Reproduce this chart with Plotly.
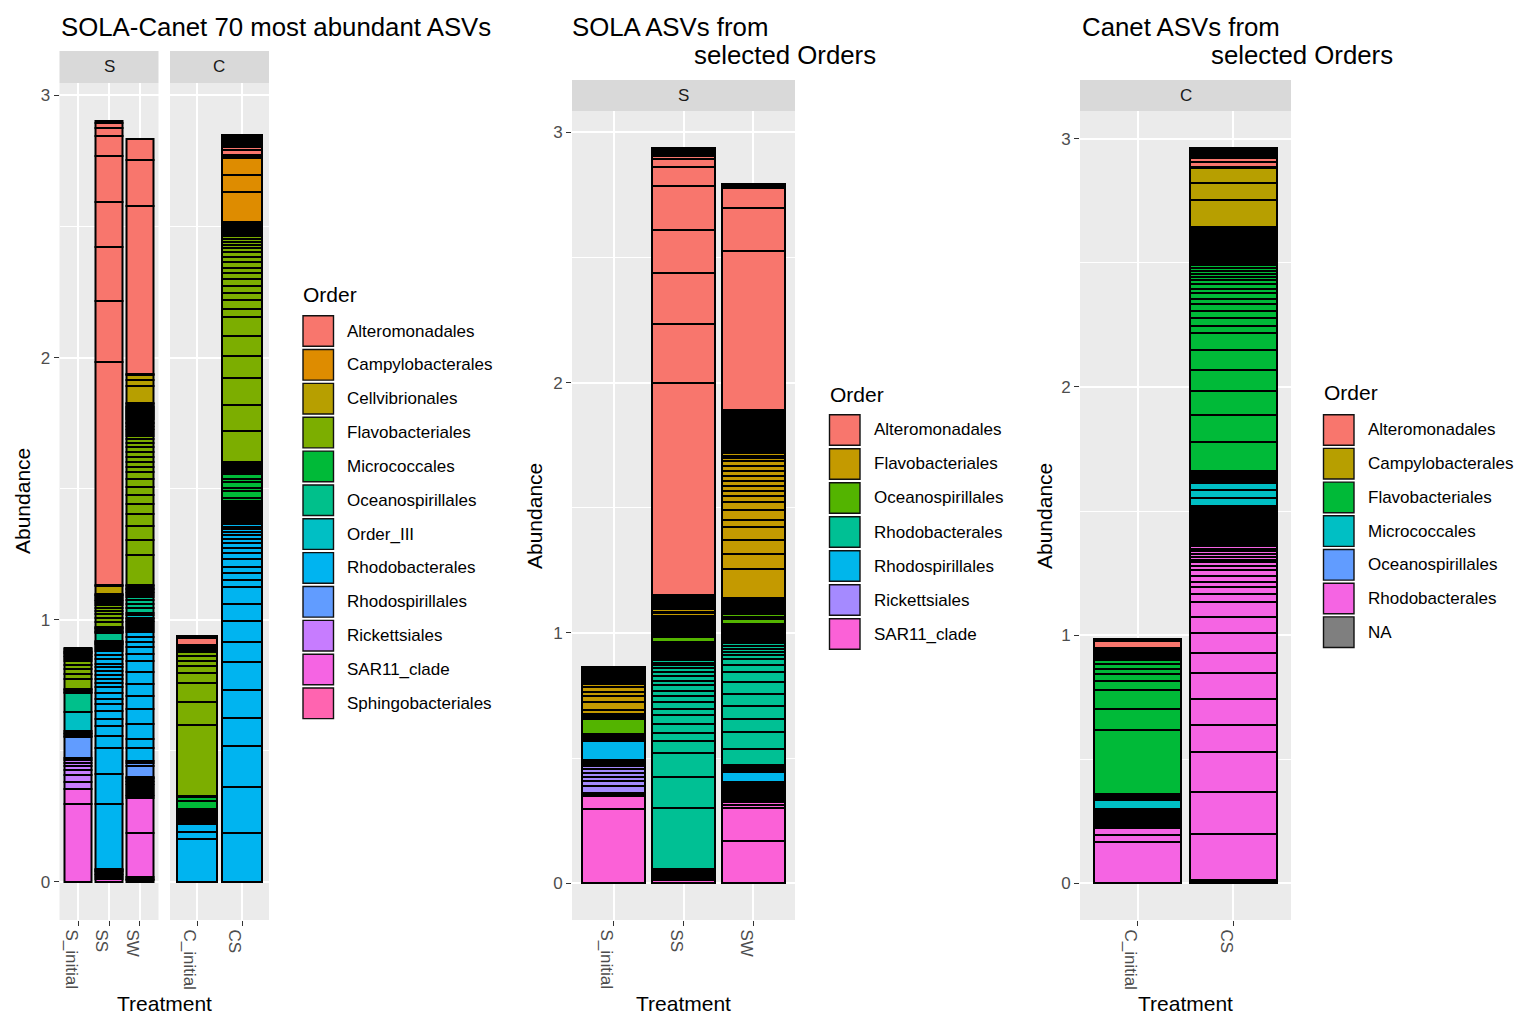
import plotly.graph_objects as go

W, H = 1518, 1015
FONT = "Liberation Sans, Arial, Helvetica, sans-serif"

# ---------------------------------------------------------------- orders / colours
p1_orders = ["Alteromonadales", "Campylobacterales", "Cellvibrionales", "Flavobacteriales",
             "Micrococcales", "Oceanospirillales", "Order_III", "Rhodobacterales",
             "Rhodospirillales", "Rickettsiales", "SAR11_clade", "Sphingobacteriales"]
p1_colors = ["#F8766D", "#DE8C00", "#B79F00", "#7CAE00", "#00BA38", "#00C08B",
             "#00BFC4", "#00B4F0", "#619CFF", "#C77CFF", "#F564E3", "#FF64B0"]

p2_orders = ["Alteromonadales", "Flavobacteriales", "Oceanospirillales", "Rhodobacterales",
             "Rhodospirillales", "Rickettsiales", "SAR11_clade"]
p2_colors = ["#F8766D", "#C49A00", "#53B400", "#00C094", "#00B6EB", "#A58AFF", "#FB61D7"]

p3_orders = ["Alteromonadales", "Campylobacterales", "Flavobacteriales", "Micrococcales",
             "Oceanospirillales", "Rhodobacterales", "NA"]
p3_colors = ["#F8766D", "#B79F00", "#00BA38", "#00BFC4", "#619CFF", "#F564E3", "#7F7F7F"]

# ---------------------------------------------------------------- ASV abundances
# each bar: (Order, ASV abundances) groups listed from the bottom of the stack upwards

# SOLA-Canet 70 most abundant ASVs, facet S
p1_S_initial = [
    ("SAR11_clade", [0.298, 0.057]),
    ("Rickettsiales", [0.028, 0.026, 0.018, 0.015, 0.012, 0.010, 0.008]),
    ("Rhodospirillales", [0.079]),
    ("Rhodobacterales", [0.007, 0.006, 0.005, 0.005]),
    ("Order_III", [0.076]),
    ("Oceanospirillales", [0.070, 0.006]),
    ("Micrococcales", [0.006, 0.005]),
    ("Flavobacteriales", [0.038, 0.019, 0.019, 0.015, 0.016, 0.007, 0.006, 0.006, 0.005, 0.005]),
    ("Cellvibrionales", [0.005, 0.004]),
    ("Alteromonadales", [0.005, 0.004]),
]
p1_SS = [
    ("SAR11_clade", [0.013]),
    ("Rickettsiales", [0.007, 0.006, 0.006, 0.005, 0.005, 0.004, 0.004]),
    ("Rhodobacterales", [0.246, 0.117, 0.099, 0.045, 0.038, 0.028, 0.030, 0.025, 0.020, 0.021,
                         0.023, 0.015, 0.017, 0.016, 0.015, 0.013, 0.015, 0.017, 0.015, 0.017,
                         0.008, 0.007, 0.006, 0.005, 0.004, 0.004, 0.004]),
    ("Oceanospirillales", [0.028, 0.006, 0.005, 0.005, 0.004, 0.004]),
    ("Flavobacteriales", [0.018, 0.016, 0.015, 0.013, 0.011, 0.010,
                          0.008, 0.007, 0.007, 0.006, 0.006, 0.005, 0.004]),
    ("Cellvibrionales", [0.030, 0.005]),
    ("Alteromonadales", [0.851, 0.233, 0.206, 0.172, 0.175, 0.074, 0.032, 0.017, 0.009]),
]
p1_SW = [
    ("SAR11_clade", [0.007, 0.006, 0.005, 0.169, 0.134, 0.006, 0.005]),
    ("Rickettsiales", [0.008, 0.007]),
    ("Rhodospirillales", [0.008, 0.007, 0.007, 0.006, 0.006, 0.005, 0.005, 0.004, 0.004,
                          0.045, 0.010, 0.009]),
    ("Rhodobacterales", [0.049, 0.032, 0.060, 0.054, 0.051, 0.047, 0.045, 0.041, 0.029, 0.026,
                         0.019, 0.019, 0.019, 0.008, 0.008, 0.007, 0.007, 0.006, 0.006, 0.005,
                         0.004]),
    ("Order_III", [0.012, 0.010]),
    ("Oceanospirillales", [0.018, 0.016, 0.014, 0.012, 0.008, 0.006, 0.006]),
    ("Micrococcales", [0.006, 0.005, 0.005, 0.004, 0.004]),
    ("Flavobacteriales", [0.115, 0.060, 0.051, 0.048, 0.036, 0.034, 0.033, 0.028, 0.026, 0.021,
                          0.020, 0.019, 0.019, 0.016, 0.017, 0.015,
                          0.010, 0.009, 0.008, 0.007, 0.006, 0.006, 0.005, 0.005, 0.005, 0.005,
                          0.005, 0.005, 0.004, 0.004, 0.004, 0.004, 0.004, 0.004, 0.004, 0.004,
                          0.004, 0.004, 0.004, 0.004, 0.004, 0.004]),
    ("Cellvibrionales", [0.005, 0.066, 0.023, 0.019]),
    ("Alteromonadales", [0.004, 0.641, 0.176, 0.079]),
]
# facet C
p1_C_initial = [
    ("Rhodobacterales", [0.162, 0.029, 0.029, 0.008, 0.007, 0.007, 0.006, 0.006, 0.005, 0.004,
                         0.004, 0.004]),
    ("Micrococcales", [0.006, 0.032, 0.015, 0.005]),
    ("Flavobacteriales", [0.270, 0.087, 0.073, 0.038, 0.025, 0.020, 0.018, 0.017,
                          0.006, 0.005, 0.005, 0.005, 0.004]),
    ("Alteromonadales", [0.030, 0.006]),
]
p1_CS = [
    ("Rhodobacterales", [0.188, 0.174, 0.157, 0.108, 0.106, 0.104, 0.080, 0.079, 0.064, 0.064,
                         0.028, 0.025, 0.026, 0.029, 0.022, 0.020, 0.018, 0.017,
                         0.013, 0.012, 0.011, 0.010, 0.009, 0.008, 0.007, 0.007, 0.006, 0.006,
                         0.005, 0.005, 0.005, 0.005, 0.004, 0.004, 0.004, 0.004, 0.004, 0.004,
                         0.004, 0.004, 0.004]),
    ("Micrococcales", [0.010, 0.027, 0.010, 0.026, 0.008, 0.020, 0.008, 0.007, 0.006, 0.006,
                       0.005, 0.005, 0.004, 0.004]),
    ("Flavobacteriales", [0.118, 0.102, 0.102, 0.083, 0.079, 0.070, 0.031, 0.036, 0.026, 0.025,
                          0.026, 0.023, 0.021, 0.022, 0.020, 0.018,
                          0.014, 0.013, 0.012, 0.011, 0.010, 0.009, 0.008, 0.007, 0.006, 0.005,
                          0.005, 0.004, 0.004, 0.004, 0.004]),
    ("Campylobacterales", [0.115, 0.064, 0.064, 0.006, 0.005]),
    ("Alteromonadales", [0.019, 0.013, 0.008, 0.007, 0.006, 0.006, 0.005, 0.005, 0.004, 0.004]),
]

# SOLA ASVs from selected Orders
p2_S_initial = [
    ("SAR11_clade", [0.296, 0.053]),
    ("Rickettsiales", [0.007, 0.006, 0.027, 0.020, 0.016, 0.017, 0.013, 0.013, 0.006, 0.005,
                       0.005, 0.004]),
    ("Rhodospirillales", [0.004, 0.077]),
    ("Rhodobacterales", [0.007, 0.006, 0.006, 0.005, 0.005]),
    ("Oceanospirillales", [0.057, 0.008, 0.006, 0.005, 0.004]),
    ("Flavobacteriales", [0.013, 0.033, 0.023, 0.017, 0.020, 0.010, 0.009, 0.008, 0.007, 0.007,
                          0.006, 0.006, 0.005, 0.005, 0.005, 0.004, 0.004, 0.004]),
]
p2_SS = [
    ("SAR11_clade", [0.012]),
    ("Rickettsiales", [0.007, 0.006, 0.005, 0.005, 0.004, 0.004]),
    ("Rhodospirillales", [0.005, 0.004, 0.004]),
    ("Rhodobacterales", [0.246, 0.124, 0.096, 0.047, 0.033, 0.033, 0.036, 0.027, 0.027, 0.021,
                         0.023, 0.023, 0.017, 0.020, 0.016,
                         0.013, 0.012, 0.011, 0.010, 0.009, 0.008, 0.007, 0.006, 0.006, 0.005,
                         0.005, 0.005, 0.004, 0.004, 0.004, 0.004, 0.004]),
    ("Oceanospirillales", [0.020, 0.008, 0.007, 0.006, 0.005, 0.006, 0.005, 0.005, 0.004, 0.004,
                           0.004, 0.004, 0.004]),
    ("Flavobacteriales", [0.008, 0.008, 0.006, 0.012, 0.007, 0.012, 0.006, 0.007, 0.006, 0.006,
                          0.005, 0.005, 0.005, 0.004, 0.004, 0.004, 0.004]),
    ("Alteromonadales", [0.846, 0.236, 0.201, 0.175, 0.174, 0.075, 0.034, 0.013,
                         0.008, 0.007, 0.006, 0.005, 0.005]),
]
p2_SW = [
    ("SAR11_clade", [0.169, 0.133, 0.011, 0.010, 0.008, 0.007, 0.007]),
    ("Rickettsiales", [0.008, 0.007, 0.006, 0.006, 0.005, 0.005, 0.004, 0.004]),
    ("Rhodospirillales", [0.005, 0.005, 0.005, 0.040, 0.008, 0.006, 0.006]),
    ("Rhodobacterales", [0.006, 0.067, 0.067, 0.051, 0.052, 0.048, 0.047, 0.040, 0.028, 0.024,
                         0.017, 0.013, 0.012, 0.011, 0.010, 0.009, 0.008, 0.007, 0.007, 0.006,
                         0.006, 0.005, 0.005, 0.005, 0.005, 0.004, 0.004, 0.004, 0.004]),
    ("Oceanospirillales", [0.020, 0.006, 0.013, 0.008, 0.007, 0.006, 0.006, 0.005, 0.005, 0.005,
                           0.005, 0.004, 0.004, 0.004, 0.004]),
    ("Flavobacteriales", [0.116, 0.061, 0.056, 0.051, 0.029, 0.040, 0.029, 0.024, 0.020, 0.020,
                          0.020, 0.020, 0.020, 0.020, 0.020,
                          0.012, 0.011, 0.010, 0.009, 0.008, 0.008, 0.007, 0.007, 0.006, 0.006,
                          0.006, 0.005, 0.005, 0.005, 0.005, 0.005, 0.005, 0.004, 0.004, 0.004,
                          0.004, 0.004, 0.004, 0.004, 0.004, 0.004, 0.004, 0.004, 0.004, 0.004,
                          0.004, 0.004, 0.004, 0.004, 0.004, 0.004, 0.004]),
    ("Alteromonadales", [0.005, 0.636, 0.173, 0.080, 0.008, 0.008]),
]

# Canet ASVs from selected Orders
p3_C_initial = [
    ("Rhodobacterales", [0.165, 0.030, 0.027, 0.008, 0.007, 0.007, 0.006, 0.006, 0.005, 0.005,
                         0.005]),
    ("Oceanospirillales", [0.006, 0.005, 0.005, 0.005, 0.004]),
    ("Micrococcales", [0.004, 0.034, 0.008, 0.006, 0.006]),
    ("Flavobacteriales", [0.006, 0.258, 0.085, 0.074, 0.038, 0.027, 0.023, 0.017, 0.016,
                          0.010, 0.009, 0.008, 0.007, 0.006, 0.005]),
    ("Alteromonadales", [0.004, 0.031, 0.008]),
]
p3_CS = [
    ("NA", [0.005, 0.004]),
    ("Rhodobacterales", [0.006, 0.183, 0.171, 0.159, 0.110, 0.105, 0.103, 0.083, 0.078, 0.065,
                         0.063, 0.031, 0.026, 0.024, 0.023, 0.022, 0.017, 0.016, 0.009,
                         0.013, 0.012, 0.011, 0.010, 0.010, 0.009, 0.008, 0.008, 0.007, 0.007,
                         0.006, 0.006, 0.006, 0.005, 0.005, 0.005, 0.005, 0.005, 0.005,
                         0.004, 0.004, 0.004, 0.004, 0.004, 0.004, 0.004, 0.004, 0.004, 0.004,
                         0.004, 0.004, 0.004, 0.004, 0.004]),
    ("Oceanospirillales", [0.004, 0.004]),
    ("Micrococcales", [0.006, 0.033, 0.030, 0.031, 0.008, 0.007, 0.007, 0.006, 0.005, 0.005,
                       0.005, 0.004]),
    ("Flavobacteriales", [0.118, 0.108, 0.096, 0.086, 0.078, 0.069, 0.029, 0.031, 0.030, 0.027,
                          0.023, 0.021, 0.019, 0.018, 0.016,
                          0.014, 0.013, 0.012, 0.011, 0.010, 0.010, 0.009, 0.008, 0.008, 0.007,
                          0.007, 0.006, 0.006, 0.005, 0.005, 0.005, 0.005, 0.005,
                          0.004, 0.004, 0.004, 0.004, 0.004, 0.004, 0.004, 0.004, 0.004, 0.004,
                          0.004, 0.004, 0.004, 0.004, 0.004, 0.004]),
    ("Campylobacterales", [0.004, 0.110, 0.068, 0.060]),
    ("Alteromonadales", [0.004, 0.020, 0.016, 0.007, 0.006, 0.006, 0.005, 0.005, 0.005, 0.004,
                         0.004]),
]

p1S_cats = ["S_initial", "SS", "SW"]
p1C_cats = ["C_initial", "CS"]
p2_cats = ["S_initial", "SS", "SW"]
p3_cats = ["C_initial", "CS"]

# ---------------------------------------------------------------- helpers
def px_x(p):
    return p / W


def px_y(p):
    return 1 - p / H


def bar_total(groups):
    return sum(sum(v) for _, v in groups)


def add_stacks(fig, bars, cats, orders, colors, xa, ya):
    """One bar trace per Order; each ASV is a rectangle stacked on the running total."""
    per_order = {o: ([], [], []) for o in orders}
    for cat, groups in zip(cats, bars):
        running = 0.0
        for order, values in groups:
            xs, ys, bs = per_order[order]
            for v in values:
                xs.append(cat)
                ys.append(v)
                bs.append(running)
                running += v
    for order, color in zip(orders, colors):
        xs, ys, bs = per_order[order]
        if not xs:
            continue
        fig.add_trace(go.Bar(
            x=xs, y=ys, base=bs, name=order, width=0.9,
            marker=dict(color=color, opacity=1, line=dict(color="black", width=2)),
            xaxis=xa, yaxis=ya, showlegend=False,
        ))


fig = go.Figure()
add_stacks(fig, [p1_S_initial, p1_SS, p1_SW], p1S_cats, p1_orders, p1_colors, "x", "y")
add_stacks(fig, [p1_C_initial, p1_CS], p1C_cats, p1_orders, p1_colors, "x2", "y2")
add_stacks(fig, [p2_S_initial, p2_SS, p2_SW], p2_cats, p2_orders, p2_colors, "x3", "y3")
add_stacks(fig, [p3_C_initial, p3_CS], p3_cats, p3_orders, p3_colors, "x4", "y4")

m1 = max(bar_total(b) for b in [p1_S_initial, p1_SS, p1_SW, p1_C_initial, p1_CS])
m2 = max(bar_total(b) for b in [p2_S_initial, p2_SS, p2_SW])
m3 = max(bar_total(b) for b in [p3_C_initial, p3_CS])
r1 = [-0.05 * m1, 1.05 * m1]
r2 = [-0.05 * m2, 1.05 * m2]
r3 = [-0.05 * m3, 1.05 * m3]

tickfont = dict(family=FONT, size=17, color="#4D4D4D")


def xaxis_cfg(left, right, cats, anchor):
    return dict(domain=[px_x(left), px_x(right)], anchor=anchor, type="category",
                categoryorder="array", categoryarray=cats, range=[-0.6, len(cats) - 0.4],
                tickangle=90, ticklabelshift=-7, ticks="outside", ticklen=5, tickwidth=1.1,
                tickcolor="#333333", tickfont=tickfont,
                showgrid=True, gridcolor="white", gridwidth=2,
                zeroline=False, showline=False, fixedrange=True)


def yaxis_cfg(top, bottom, rng, anchor, labels=True):
    return dict(domain=[px_y(bottom), px_y(top)], anchor=anchor, range=rng, tick0=0, dtick=1,
                ticks="outside" if labels else "", ticklen=5, tickwidth=1.1,
                tickcolor="#333333", showticklabels=labels, tickfont=tickfont,
                showgrid=True, gridcolor="white", gridwidth=2,
                minor=dict(dtick=0.5, tick0=0, showgrid=True, gridcolor="white", gridwidth=1),
                zeroline=False, showline=False, fixedrange=True)


BOTTOM = 920
fig.update_layout(
    width=W, height=H, autosize=False,
    margin=dict(l=0, r=0, t=0, b=0),
    paper_bgcolor="white", plot_bgcolor="#EBEBEB",
    barmode="overlay", bargap=0,
    showlegend=False,
    font=dict(family=FONT, color="black"),
    xaxis=xaxis_cfg(59.5, 158.5, p1S_cats, "y"),
    yaxis=yaxis_cfg(83, BOTTOM, r1, "x"),
    xaxis2=xaxis_cfg(170, 269, p1C_cats, "y2"),
    yaxis2=yaxis_cfg(83, BOTTOM, r1, "x2", labels=False),
    xaxis3=xaxis_cfg(572, 795, p2_cats, "y3"),
    yaxis3=yaxis_cfg(111, BOTTOM, r2, "x3"),
    xaxis4=xaxis_cfg(1080, 1291, p3_cats, "y4"),
    yaxis4=yaxis_cfg(111, BOTTOM, r3, "x4"),
)

shapes = []
annotations = []


def label(text, x, y, size, color="black", xanchor="left", angle=0):
    annotations.append(dict(text=text, x=px_x(x), y=px_y(y), xref="paper", yref="paper",
                            showarrow=False, xanchor=xanchor, yanchor="middle",
                            textangle=angle,
                            font=dict(family=FONT, size=size, color=color)))


def strip(left, right, top, bottom, text):
    shapes.append(dict(type="rect", xref="paper", yref="paper",
                       x0=px_x(left), x1=px_x(right), y0=px_y(bottom), y1=px_y(top),
                       fillcolor="#D9D9D9", line=dict(width=0), layer="below"))
    label(text, (left + right) / 2, (top + bottom) / 2, 17, "#1A1A1A", "center")


def legend(orders, colors, title_x, title_y, key_x, first_y, step, text_x):
    label("Order", title_x, title_y, 21)
    for i, (o, c) in enumerate(zip(orders, colors)):
        cy = first_y + i * step
        shapes.append(dict(type="rect", xref="paper", yref="paper",
                           x0=px_x(key_x), x1=px_x(key_x + 30.5),
                           y0=px_y(cy + 15.3), y1=px_y(cy - 15.3),
                           fillcolor=c, line=dict(color="#111111", width=1.4)))
        label(o, text_x, cy, 17)


# facet strips
strip(59.5, 158.5, 51, 83, "S")
strip(170, 269, 51, 83, "C")
strip(572, 795, 80, 111, "S")
strip(1080, 1291, 80, 111, "C")

# titles
label("SOLA-Canet 70 most abundant ASVs", 59, 27, 25.8)
label("SOLA ASVs from", 570, 27, 25.8)
label("selected Orders", 692, 55, 25.8)
label("Canet ASVs from", 1080, 27, 25.8)
label("selected Orders", 1209, 55, 25.8)

# axis titles
label("Abundance", 22, 501, 21, xanchor="center", angle=-90)
label("Abundance", 534, 516, 21, xanchor="center", angle=-90)
label("Abundance", 1044, 516, 21, xanchor="center", angle=-90)
label("Treatment", 164, 1003, 21, xanchor="center")
label("Treatment", 683, 1003, 21, xanchor="center")
label("Treatment", 1185, 1003, 21, xanchor="center")

# legends
legend(p1_orders, p1_colors, 301, 294, 303, 331, 33.85, 345)
legend(p2_orders, p2_colors, 828, 394, 829.5, 430, 34, 872)
legend(p3_orders, p3_colors, 1322, 393, 1323.5, 430, 33.7, 1366)

fig.update_layout(shapes=shapes, annotations=annotations)
fig.write_html("out.html")
